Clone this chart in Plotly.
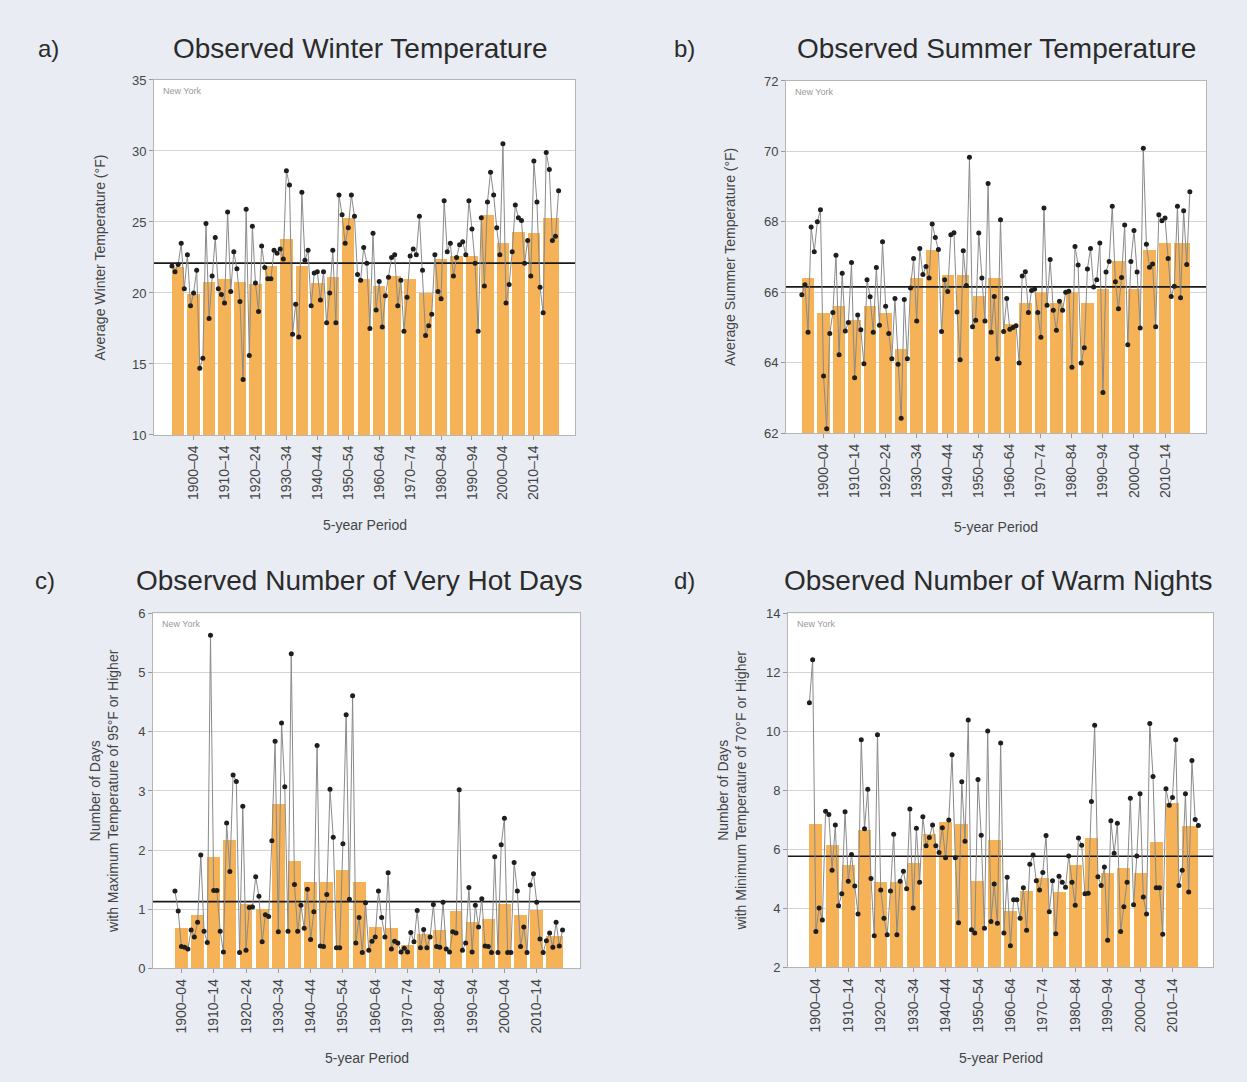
import plotly.graph_objects as go

# ---------------- DATA ----------------
temp_first_year, temp_last_year = 1895, 2020
ext_first_year, ext_last_year = 1900, 2020

winter_annual = [
    21.9, 21.5, 22.0, 23.5, 20.3,  22.7, 19.1, 20.0, 21.6, 14.7,
    15.4, 24.9, 18.2, 21.2, 23.9,  20.3, 19.9, 19.3, 25.7, 20.1,
    22.9, 21.7, 19.4, 13.9, 25.9,  15.6, 24.7, 20.7, 18.7, 23.3,
    21.8, 21.0, 21.0, 23.0, 22.8,  23.1, 22.4, 28.6, 27.6, 17.1,
    19.2, 16.9, 27.1, 22.3, 23.0,  19.1, 21.4, 21.5, 19.5, 21.5,
    17.9, 20.0, 23.0, 17.9, 26.9,  25.5, 23.5, 24.6, 26.9, 25.4,
    21.3, 20.9, 23.2, 22.1, 17.5,  24.2, 18.8, 20.8, 17.6, 19.8,
    21.1, 22.5, 22.7, 19.1, 20.9,  17.3, 19.7, 22.6, 23.1, 22.7,
    25.4, 21.6, 17.0, 17.7, 18.5,  22.7, 20.1, 19.6, 26.5, 22.9,
    23.5, 21.2, 22.5, 23.4, 23.6,  22.7, 26.5, 24.5, 22.1, 17.3,
    25.3, 20.5, 26.4, 28.5, 26.9,  24.6, 22.7, 30.5, 19.3, 20.6,
    22.9, 26.2, 25.3, 25.1, 22.1,  23.7, 21.2, 29.3, 26.4, 20.4,
    18.6, 29.9, 28.7, 23.7, 24.0, 27.2,
]
winter_5yr = [21.8, 19.9, 20.8, 21.0, 20.8, 20.6, 21.9, 23.8, 21.9, 20.7, 21.1, 25.3, 21.0,
              20.5, 21.2, 21.0, 20.0, 22.4, 22.6, 22.6, 25.5, 23.5, 24.3, 24.2, 25.3]
winter_mean = 22.1

summer_annual = [
    65.93, 66.21, 64.86, 67.85, 67.15,  68.00, 68.34, 63.62, 62.12, 64.83,
    65.42, 67.05, 64.22, 66.54, 64.90,  65.14, 66.84, 63.57, 65.35, 64.93,
    63.97, 66.35, 65.87, 64.86, 66.70,  65.06, 67.43, 65.60, 64.83, 64.11,
    65.82, 63.95, 62.42, 65.79, 64.11,  66.12, 66.96, 65.18, 67.24, 66.50,
    66.73, 66.40, 67.94, 67.55, 67.21,  64.88, 66.35, 66.02, 67.63, 67.69,
    65.44, 64.08, 67.18, 66.19, 69.83,  65.02, 65.20, 67.68, 66.40, 65.18,
    69.09, 64.86, 65.88, 64.11, 68.06,  64.88, 65.82, 64.95, 65.00, 65.05,
    63.99, 66.46, 66.58, 65.42, 66.05,  66.09, 65.42, 64.72, 68.39, 65.63,
    66.93, 65.49, 64.92, 65.74, 65.49,  66.00, 66.03, 63.87, 67.30, 66.77,
    63.99, 64.42, 66.66, 67.24, 66.15,  66.35, 67.40, 63.15, 66.57, 66.87,
    68.44, 66.30, 65.53, 66.42, 67.91,  64.51, 66.87, 67.75, 66.57, 64.98,
    70.09, 67.36, 66.71, 66.80, 65.02,  68.20, 68.03, 68.11, 66.96, 65.88,
    66.17, 68.44, 65.84, 68.31, 66.79, 68.85,
]
summer_5yr = [66.4, 65.4, 65.6, 65.2, 65.6, 65.4, 64.4, 66.4, 67.2, 66.5, 66.5, 65.9, 66.4,
              65.1, 65.7, 66.0, 65.7, 66.0, 65.7, 66.1, 66.9, 66.1, 67.2, 67.4, 67.4]
summer_mean = 66.15

hot_days_annual = [
    1.31, 0.97, 0.37, 0.36, 0.33,  0.65, 0.53, 0.78, 1.92, 0.63,
    0.44, 5.63, 1.32, 1.32, 0.63,  0.28, 2.46, 1.64, 3.27, 3.16,
    0.27, 2.74, 0.31, 1.03, 1.04,  1.55, 1.22, 0.45, 0.91, 0.88,
    2.16, 3.84, 0.62, 4.15, 3.07,  0.63, 5.32, 1.42, 0.63, 1.07,
    0.68, 1.34, 0.49, 0.96, 3.77,  0.38, 0.37, 1.25, 3.03, 2.22,
    0.35, 0.35, 2.11, 4.29, 1.17,  4.61, 0.43, 0.86, 0.27, 1.11,
    0.31, 0.46, 0.53, 1.31, 0.86,  0.53, 1.62, 0.33, 0.46, 0.43,
    0.28, 0.34, 0.28, 0.61, 0.45,  0.98, 0.35, 0.66, 0.35, 0.53,
    1.08, 0.37, 0.36, 1.12, 0.33,  0.28, 0.62, 0.60, 3.02, 0.31,
    0.43, 1.37, 0.28, 1.07, 0.70,  1.18, 0.38, 0.37, 0.27, 1.89,
    0.27, 2.09, 2.54, 0.27, 0.27,  1.79, 1.31, 0.37, 0.70, 0.27,
    1.41, 1.60, 1.12, 0.50, 0.27,  0.47, 0.60, 0.36, 0.78, 0.38, 0.65,
]
hot_days_5yr = [0.67, 0.90, 1.87, 2.16, 1.08, 1.00, 2.77, 1.81, 1.45, 1.45, 1.65, 1.46,
                0.69, 0.67, 0.39, 0.57, 0.65, 0.97, 0.77, 0.82, 1.09, 0.89, 0.98, 0.54]
hot_days_mean = 1.13

warm_nights_annual = [
    10.97, 12.43, 3.22, 4.02, 3.61,  7.30, 7.19, 5.30, 6.83, 4.09,
    4.50, 7.28, 4.92, 5.83, 4.76,  3.81, 9.72, 6.70, 8.04, 5.02,
    3.08, 9.89, 4.63, 3.67, 3.11,  4.59, 6.52, 3.11, 4.92, 5.26,
    4.67, 7.37, 4.02, 6.72, 4.89,  7.11, 6.13, 6.41, 6.83, 6.13,
    5.90, 6.74, 5.72, 7.00, 9.21,  5.72, 3.52, 8.30, 6.28, 10.39,
    3.28, 3.17, 8.37, 6.48, 3.33,  10.02, 3.56, 4.83, 3.50, 9.61,
    3.17, 5.06, 2.74, 4.30, 4.30,  3.67, 4.70, 3.26, 5.50, 5.81,
    4.94, 4.63, 5.22, 6.47, 3.89,  4.94, 3.14, 5.09, 4.89, 4.72,
    5.78, 4.89, 4.11, 6.39, 6.14,  4.50, 4.52, 7.63, 10.21, 5.08,
    4.78, 5.41, 2.92, 6.97, 5.87,  6.89, 3.22, 4.06, 4.89, 7.74,
    4.13, 5.78, 7.89, 4.39, 3.81,  10.27, 8.47, 4.70, 4.70, 3.13,
    8.06, 7.50, 7.76, 9.72, 4.78,  5.30, 7.89, 4.56, 9.02, 7.02, 6.81,
]
warm_nights_5yr = [6.85, 6.15, 5.45, 6.65, 4.88, 4.88, 5.53, 6.52, 6.90, 6.84, 4.93, 6.30,
                   3.90, 4.59, 5.03, 4.56, 5.46, 6.39, 5.19, 5.36, 5.20, 6.25, 7.56, 6.77]
warm_nights_mean = 5.77

tick_period_starts = [1900, 1910, 1920, 1930, 1940, 1950, 1960, 1970, 1980, 1990, 2000, 2010]
tick_labels = ["1900–04", "1910–14", "1920–24", "1930–34", "1940–44", "1950–54",
               "1960–64", "1970–74", "1980–84", "1990–94", "2000–04", "2010–14"]

titles = ["Observed Winter Temperature", "Observed Summer Temperature",
          "Observed Number of Very Hot Days", "Observed Number of Warm Nights"]
panel_letters = ["a)", "b)", "c)", "d)"]
y_titles = ["Average Winter Temperature (°F)", "Average Summer Temperature (°F)",
            "Number of Days<br>with Maximum Temperature of 95°F or Higher",
            "Number of Days<br>with Minimum Temperature of 70°F or Higher"]
place_name = "New York"
x_title = "5-year Period"

# ---------------- LAYOUT HELPERS ----------------
W, H = 1247, 1082
FONT = "Liberation Sans, Arial, sans-serif"
BG = "#E9EDF3"
BAR = "#F5B257"


def px_x(p):
    return p / W


def px_y(p):
    return 1 - p / H


def periods(first, last):
    starts = list(range(first, last - 5 + 1, 5))
    ends = [s + 4 for s in starts]
    ends[-1] = last
    return starts, ends


panels = [
    dict(annual=winter_annual, bars=winter_5yr, mean=winter_mean, first=temp_first_year,
         last=temp_last_year, yrange=[10, 35], dtick=5,
         dom_x=[154, 575], dom_y=[74, 434], xr=[1889.2, 2025.3]),
    dict(annual=summer_annual, bars=summer_5yr, mean=summer_mean, first=temp_first_year,
         last=temp_last_year, yrange=[62, 72], dtick=2,
         dom_x=[786, 1206], dom_y=[75, 432], xr=[1889.9, 2025.2]),
    dict(annual=hot_days_annual, bars=hot_days_5yr, mean=hot_days_mean, first=ext_first_year,
         last=ext_last_year, yrange=[0, 6], dtick=1,
         dom_x=[153, 580], dom_y=[615, 975], xr=[1893.2, 2025.4]),
    dict(annual=warm_nights_annual, bars=warm_nights_5yr, mean=warm_nights_mean,
         first=ext_first_year, last=ext_last_year, yrange=[2, 14], dtick=2,
         dom_x=[788, 1213], dom_y=[615, 974], xr=[1893.4, 2024.5]),
]

# title / label pixel positions
title_pos = [(360, 42), (996, 42), (359, 582), (998, 582)]
letter_pos = [(48, 42), (684, 42), (45, 582), (684, 582)]
ytitle_x = [100, 730, 104, 732]
xtitle_y = [525, 527, 1066, 1066]

fig = go.Figure()
annotations = []
layout_axes = {}

for i, p in enumerate(panels):
    n = "" if i == 0 else str(i + 1)
    xa, ya = "x" + n, "y" + n
    years = list(range(p["first"], p["last"] + 1))
    starts, ends = periods(p["first"], p["last"])
    centers = [(s + e) / 2 for s, e in zip(starts, ends)]
    widths = [e - s for s, e in zip(starts, ends)]

    fig.add_trace(go.Bar(x=centers, y=p["bars"], width=widths, marker_color=BAR,
                         marker_line_width=0, xaxis=xa, yaxis=ya, showlegend=False))
    fig.add_trace(go.Scatter(x=p["xr"], y=[p["mean"], p["mean"]], mode="lines",
                             line=dict(color="#1a1a1a", width=1.6), xaxis=xa, yaxis=ya,
                             showlegend=False, hoverinfo="skip"))
    fig.add_trace(go.Scatter(x=years, y=p["annual"], mode="lines+markers",
                             line=dict(color="#8a8a8a", width=1),
                             marker=dict(color="#1e1e1e", size=5),
                             xaxis=xa, yaxis=ya, showlegend=False))

    dx = [px_x(p["dom_x"][0]), px_x(p["dom_x"][1])]
    dy = [px_y(p["dom_y"][1]), px_y(p["dom_y"][0])]
    layout_axes["xaxis" + n] = dict(
        domain=dx, anchor=ya, range=p["xr"], tickmode="array",
        tickvals=[s + 2 for s in tick_period_starts], ticktext=tick_labels,
        tickangle=-90, ticks="outside", ticklen=4, tickcolor="#9a9a9a",
        showgrid=False, zeroline=False, showline=True, mirror=True,
        linecolor="#b5b5b5", linewidth=1,
        tickfont=dict(family=FONT, size=14, color="#444"))
    layout_axes["yaxis" + n] = dict(
        domain=dy, anchor=xa, range=p["yrange"], dtick=p["dtick"], ticks="outside",
        ticklen=4, tickcolor="#9a9a9a", showgrid=True, gridcolor="#d4d4d4",
        gridwidth=1, zeroline=False, showline=True, mirror=True, linecolor="#b5b5b5",
        linewidth=1, tickfont=dict(family=FONT, size=13, color="#444"))

    tx, ty = title_pos[i]
    annotations.append(dict(x=px_x(tx), y=px_y(ty), xref="paper", yref="paper",
                            text=titles[i], showarrow=False, xanchor="center",
                            yanchor="middle",
                            font=dict(family=FONT, size=28, color="#2b2b2b")))
    lx, ly = letter_pos[i]
    annotations.append(dict(x=px_x(lx), y=px_y(ly), xref="paper", yref="paper",
                            text=panel_letters[i], showarrow=False, xanchor="center",
                            yanchor="middle",
                            font=dict(family=FONT, size=24, color="#2b2b2b")))
    annotations.append(dict(x=px_x(ytitle_x[i]),
                            y=px_y((p["dom_y"][0] + p["dom_y"][1]) / 2),
                            xref="paper", yref="paper", text=y_titles[i], textangle=-90,
                            showarrow=False, xanchor="center", yanchor="middle",
                            font=dict(family=FONT, size=14, color="#444")))
    annotations.append(dict(x=px_x((p["dom_x"][0] + p["dom_x"][1]) / 2),
                            y=px_y(xtitle_y[i]), xref="paper", yref="paper",
                            text=x_title, showarrow=False, xanchor="center",
                            yanchor="middle",
                            font=dict(family=FONT, size=14, color="#444")))
    annotations.append(dict(x=px_x(p["dom_x"][0] + 7), y=px_y(p["dom_y"][0] + 11),
                            xref="paper", yref="paper", text=place_name, showarrow=False,
                            xanchor="left", yanchor="middle",
                            font=dict(family=FONT, size=9, color="#999")))

fig.update_layout(
    width=W, height=H, margin=dict(l=0, r=0, t=0, b=0),
    paper_bgcolor=BG, plot_bgcolor="white", bargap=0,
    annotations=annotations, showlegend=False, **layout_axes)

fig.write_html("out.html")
